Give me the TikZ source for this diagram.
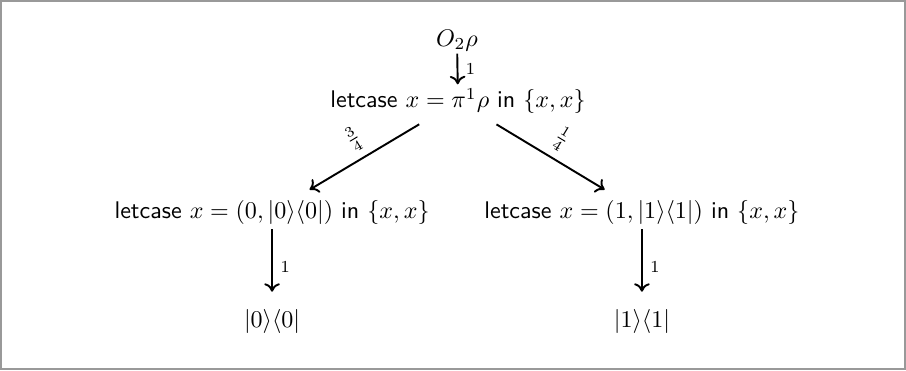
\documentclass[tikz,border=0pt]{standalone}
\usetikzlibrary{arrows.meta}
\begin{document}
\begin{tikzpicture}[x=0.4155pt,y=-0.4155pt,
  term/.style={inner sep=0pt},
  edge/.style={thick,-{To[length=3.5pt,width=6.5pt]}},
  lab/.style={font=\scriptsize,inner sep=3pt},
  flab/.style={font=\small,inner sep=3pt}]
\draw[gray!80,line width=1pt] (1,1) rectangle (905,369);
\useasboundingbox (0,0) rectangle (906,370);
\node[term] (top) at (457,40) {$O_2\rho$};
\node[term] (mid) at (458,101) {\textsf{letcase} $x=\pi^1\rho$ \textsf{in} $\{x,x\}$};
\node[term] (L) at (272,212) {\textsf{letcase} $x=(0,|0\rangle\langle0|)$ \textsf{in} $\{x,x\}$};
\node[term] (R) at (642,212) {\textsf{letcase} $x=(1,|1\rangle\langle1|)$ \textsf{in} $\{x,x\}$};
\node[term] (LL) at (272,321) {$|0\rangle\langle0|$};
\node[term] (RR) at (642,321) {$|1\rangle\langle1|$};
\draw[edge,shorten <=1pt,shorten >=1.5pt] (top) -- node[lab,right]{$1$} (mid);
\draw[edge,shorten <=8pt,shorten >=8pt] (mid) -- node[flab,above,sloped]{$\frac{3}{4}$} (L);
\draw[edge,shorten <=8pt,shorten >=8pt] (mid) -- node[flab,above,sloped]{$\frac{1}{4}$} (R);
\draw[edge,shorten <=2pt,shorten >=7pt] (L) -- node[lab,right]{$1$} (LL);
\draw[edge,shorten <=2pt,shorten >=7pt] (R) -- node[lab,right]{$1$} (RR);
\end{tikzpicture}
\end{document}
